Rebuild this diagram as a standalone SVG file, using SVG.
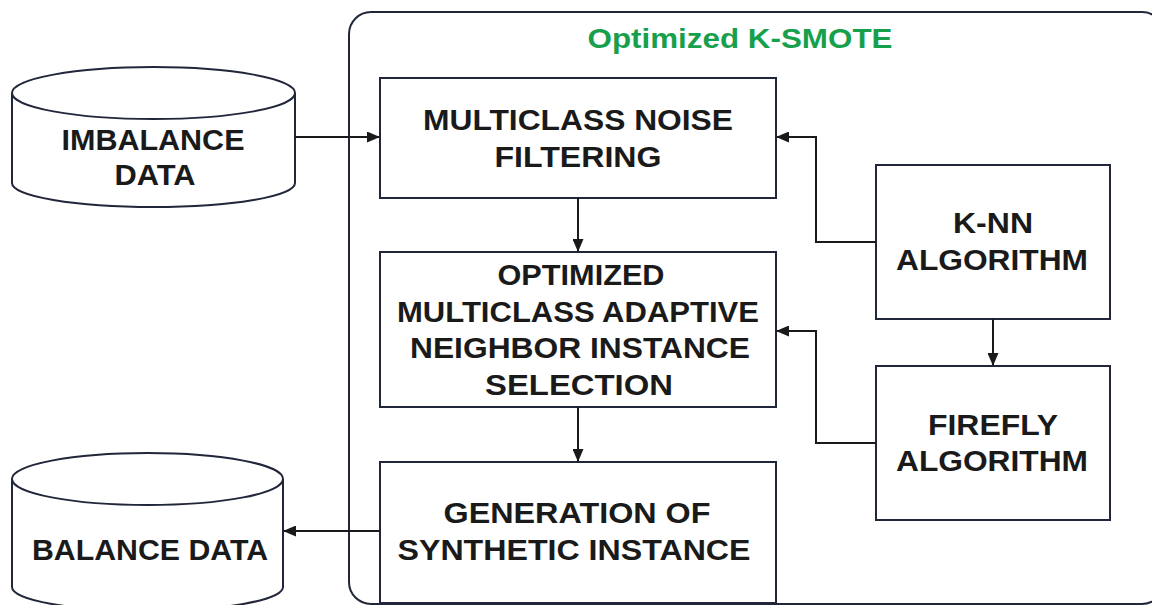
<svg xmlns="http://www.w3.org/2000/svg" width="1152" height="605" viewBox="0 0 1152 605">
<style>
.box{fill:#fff;stroke:#22263a;stroke-width:2}
.cyl{fill:#fff;stroke:#22263a;stroke-width:2}
.t{font-family:"Liberation Sans",Arial,sans-serif;font-weight:bold;font-size:29px;fill:#1a1a1a;text-anchor:middle}
.title{font-family:"Liberation Sans",Arial,sans-serif;font-weight:bold;font-size:28px;fill:#17a04b;text-anchor:middle}
.c{fill:none;stroke:#1a1a1a;stroke-width:2;marker-end:url(#ah)}
</style>
<defs>
<marker id="ah" markerWidth="13" markerHeight="11" refX="12" refY="5.5" orient="auto" markerUnits="userSpaceOnUse">
<path d="M0,0 L13,5.5 L0,11 Z" fill="#1a1a1a"/>
</marker>
</defs>
<rect width="1152" height="605" fill="#fff"/>
<g id="container">
<rect x="349" y="12" width="815" height="592" rx="22" fill="none" stroke="#22263a" stroke-width="2"/>
<text class="title" x="740" y="48" textLength="305" lengthAdjust="spacingAndGlyphs">Optimized K-SMOTE</text>
</g>
<g id="imbalance">
<path class="cyl" d="M12,93 V183 A141.5,24 0 0 0 295,183 V93"/>
<ellipse class="cyl" cx="153.5" cy="93" rx="141.5" ry="26"/>
<text class="t" x="153" y="150" textLength="183" lengthAdjust="spacingAndGlyphs">IMBALANCE</text>
<text class="t" x="155" y="185" textLength="81" lengthAdjust="spacingAndGlyphs">DATA</text>
</g>
<g id="balance">
<path class="cyl" d="M12,479 V587 A135.5,24 0 0 0 283,587 V479"/>
<ellipse class="cyl" cx="147.5" cy="479" rx="135.5" ry="26"/>
<text class="t" x="150" y="560" textLength="236" lengthAdjust="spacingAndGlyphs">BALANCE DATA</text>
</g>
<g id="noise">
<rect class="box" x="380" y="78" width="396" height="120"/>
<text class="t" x="578" y="130" textLength="310" lengthAdjust="spacingAndGlyphs">MULTICLASS NOISE</text>
<text class="t" x="578" y="167" textLength="167" lengthAdjust="spacingAndGlyphs">FILTERING</text>
</g>
<g id="selection">
<rect class="box" x="380" y="252" width="396" height="155"/>
<text class="t" x="581" y="285" textLength="167" lengthAdjust="spacingAndGlyphs">OPTIMIZED</text>
<text class="t" x="578" y="322" textLength="362" lengthAdjust="spacingAndGlyphs">MULTICLASS ADAPTIVE</text>
<text class="t" x="580" y="358" textLength="340" lengthAdjust="spacingAndGlyphs">NEIGHBOR INSTANCE</text>
<text class="t" x="579" y="395" textLength="188" lengthAdjust="spacingAndGlyphs">SELECTION</text>
</g>
<g id="generation">
<rect class="box" x="380" y="462" width="396" height="141"/>
<text class="t" x="577" y="523" textLength="267" lengthAdjust="spacingAndGlyphs">GENERATION OF</text>
<text class="t" x="574" y="560" textLength="353" lengthAdjust="spacingAndGlyphs">SYNTHETIC INSTANCE</text>
</g>
<g id="knn">
<rect class="box" x="876" y="165" width="234" height="154"/>
<text class="t" x="993" y="233" textLength="80" lengthAdjust="spacingAndGlyphs">K-NN</text>
<text class="t" x="992" y="270" textLength="192" lengthAdjust="spacingAndGlyphs">ALGORITHM</text>
</g>
<g id="firefly">
<rect class="box" x="876" y="366" width="234" height="154"/>
<text class="t" x="993" y="435" textLength="130" lengthAdjust="spacingAndGlyphs">FIREFLY</text>
<text class="t" x="992" y="471" textLength="192" lengthAdjust="spacingAndGlyphs">ALGORITHM</text>
</g>
<g id="connectors">
<path class="c" d="M295,137 H379"/>
<path class="c" d="M578,198 V251"/>
<path class="c" d="M578,407 V461"/>
<path class="c" d="M380,531 H284"/>
<path class="c" d="M876,242 H816 V137 H777"/>
<path class="c" d="M876,443 H816 V331 H777"/>
<path class="c" d="M993,319 V365"/>
</g>
</svg>
